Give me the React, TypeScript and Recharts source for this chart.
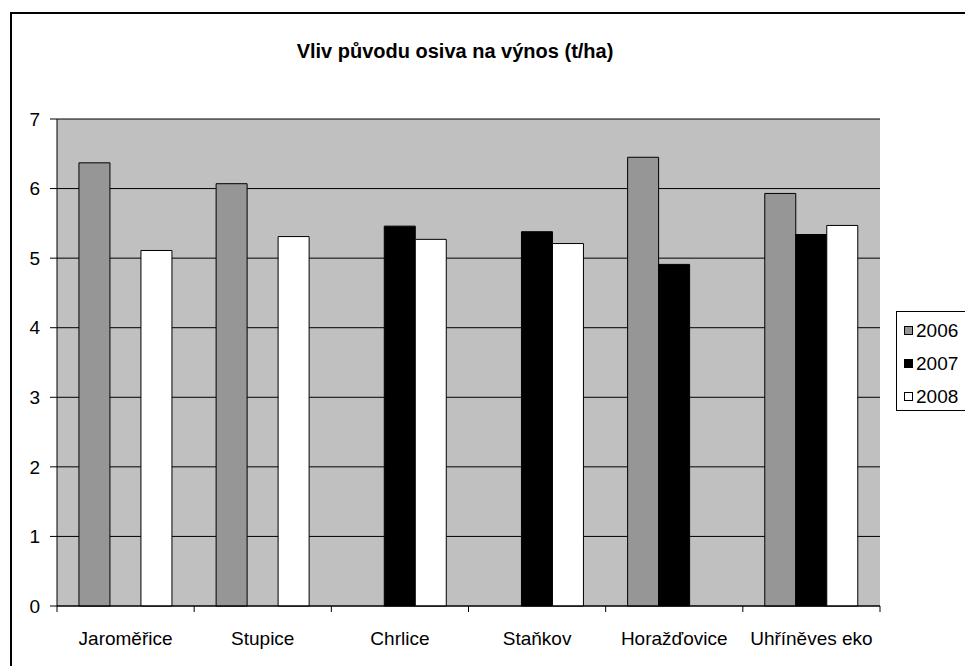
import React from 'react';
import { BarChart, Bar, XAxis, YAxis, CartesianGrid, Legend } from 'recharts';

const categories = ['Jaroměřice', 'Stupice', 'Chrlice', 'Staňkov', 'Horažďovice', 'Uhříněves eko'];
const series2006: (number | null)[] = [6.37, 6.07, null, null, 6.45, 5.93];
const series2007: (number | null)[] = [null, null, 5.46, 5.38, 4.91, 5.34];
const series2008: (number | null)[] = [5.11, 5.31, 5.27, 5.21, null, 5.47];
const seriesNames = ['2006', '2007', '2008'];
const seriesKeys = ['s2006', 's2007', 's2008'];
const seriesColors = ['#969696', '#000000', '#FFFFFF'];
const yTicks = [0, 1, 2, 3, 4, 5, 6, 7];
const title = 'Vliv původu osiva na výnos (t/ha)';

const data = categories.map((name, i) => ({
  name,
  s2006: series2006[i],
  s2007: series2007[i],
  s2008: series2008[i],
}));

const FONT = '"Liberation Sans", Arial, sans-serif';
const X_TICK_SIZE = 6;
const X_TICK_MARGIN = 20;

const CategoryTick = (props: any) => {
  const { x, y, payload, index, visibleTicksCount } = props;
  const half = payload && payload.offset ? payload.offset : 0;
  const axisY = y - X_TICK_SIZE - X_TICK_MARGIN;
  const isLast = index === visibleTicksCount - 1;
  return (
    <g>
      <line x1={x - half} x2={x - half} y1={axisY} y2={axisY + X_TICK_SIZE} stroke="#000" />
      {isLast && (
        <line x1={x + half} x2={x + half} y1={axisY} y2={axisY + X_TICK_SIZE} stroke="#000" />
      )}
      <text
        x={x}
        y={y}
        dy="0.71em"
        textAnchor="middle"
        fill="#000"
        fontSize={19}
        fontFamily={FONT}
      >
        {payload.value}
      </text>
    </g>
  );
};

const LegendContent = () => (
  <div
    style={{
      border: '1px solid #000',
      background: '#fff',
      width: 90,
      height: 100,
      boxSizing: 'border-box',
      paddingTop: 2,
      fontFamily: FONT,
    }}
  >
    {seriesNames.map((n, i) => (
      <div key={n} style={{ display: 'flex', alignItems: 'center', height: 33 }}>
        <span
          style={{
            display: 'inline-block',
            width: 7,
            height: 7,
            border: '1px solid #000',
            background: seriesColors[i],
            marginLeft: 7,
            marginRight: 3,
          }}
        />
        <span style={{ fontSize: 19, color: '#000' }}>{n}</span>
      </div>
    ))}
  </div>
);

export default function App() {
  return (
    <div
      style={{
        position: 'absolute',
        left: 0,
        top: 0,
        width: 965,
        height: 666,
        overflow: 'hidden',
        background: '#fff',
      }}
    >
      <div
        style={{
          position: 'absolute',
          left: 10,
          top: 12,
          width: 1000,
          height: 1000,
          border: '2px solid #000',
          boxSizing: 'border-box',
        }}
      />
      <div
        style={{
          position: 'absolute',
          left: 0,
          top: 41,
          width: 910,
          textAlign: 'center',
          fontFamily: FONT,
          fontWeight: 'bold',
          fontSize: 20,
          lineHeight: '20px',
          color: '#000',
        }}
      >
        {title}
      </div>
      <div style={{ position: 'absolute', left: 0, top: 0 }}>
        <BarChart
          width={965}
          height={666}
          data={data}
          margin={{ top: 119, right: 85, bottom: 30, left: 10 }}
          barGap={0}
          barCategoryGap="16%"
        >
          <CartesianGrid
            xAxisId="cat"
            yAxisId="left"
            vertical={false}
            horizontal
            stroke="#000"
            fill="#C0C0C0"
            fillOpacity={1}
          />
          <XAxis
            xAxisId="cat"
            dataKey="name"
            type="category"
            tickLine={false}
            axisLine={{ stroke: '#000' }}
            tickSize={X_TICK_SIZE}
            tickMargin={X_TICK_MARGIN}
            height={30}
            interval={0}
            tick={<CategoryTick />}
          />
          <YAxis
            yAxisId="left"
            domain={[0, 7]}
            ticks={yTicks}
            width={47}
            tickSize={7}
            tickMargin={10}
            interval={0}
            axisLine={{ stroke: '#000' }}
            tickLine={{ stroke: '#000' }}
            tick={{ fill: '#000', fontSize: 19, fontFamily: FONT }}
          />
          <YAxis
            yAxisId="right"
            orientation="right"
            domain={[0, 7]}
            width={0}
            tick={false}
            tickLine={false}
            axisLine={{ stroke: '#808080' }}
          />
          <Legend
            layout="vertical"
            align="center"
            verticalAlign="middle"
            content={<LegendContent />}
            wrapperStyle={{ left: 896, top: 311, width: 90, height: 100 }}
          />
          {seriesKeys.map((k, i) => (
            <Bar
              key={k}
              dataKey={k}
              name={seriesNames[i]}
              xAxisId="cat"
              yAxisId="left"
              fill={seriesColors[i]}
              stroke="#000"
              strokeWidth={1}
              isAnimationActive={false}
            />
          ))}
        </BarChart>
      </div>
    </div>
  );
}
